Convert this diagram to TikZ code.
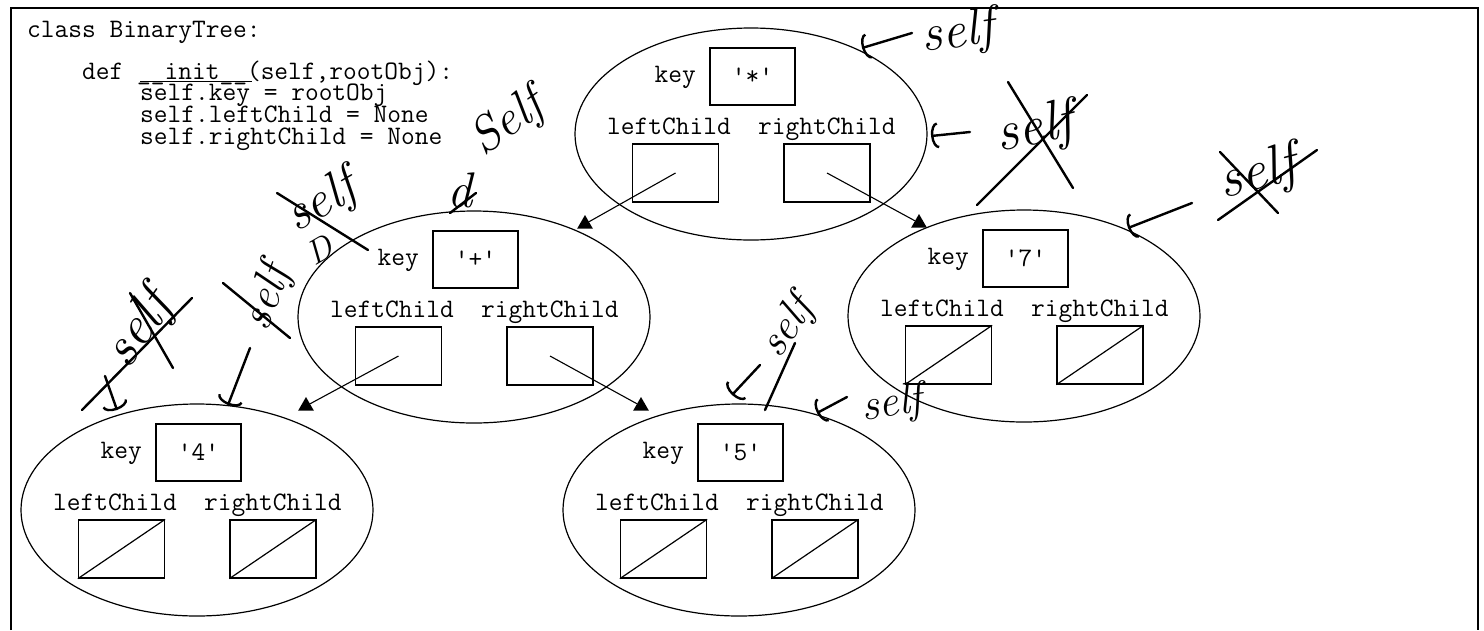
\documentclass[tikz,border=0pt]{standalone}
\usepackage{fontspec}
\usetikzlibrary{shapes.geometric,arrows.meta}
\newcommand\squote{\char39\relax}
% one tree node: name, centre x, centre y, key value, null children (1/0)
\newcommand\treenode[5]{%
  \begin{scope}[shift={(#2,#3)}]
    \node[bell] (#1) at (0,0) {};
    \node[kbox] (#1-key) at (1.5,-57.5) {\squote#4\squote};
    \node[mono, anchor=base east] (#1-keylbl) at (-55,-52) {key};
    \node[mono, anchor=base west] (#1-ll) at (-144,0) {leftChild};
    \node[mono, anchor=base west] (#1-rl) at (7,0) {rightChild};
    \node[cbox] (#1-left) at (-75.5,39) {};
    \node[cbox] (#1-right) at (76,39) {};
    \ifnum#5=1
      \draw[thin line] (#1-left.south west) -- (#1-left.north east);
      \draw[thin line] (#1-right.south west) -- (#1-right.north east);
    \fi
  \end{scope}}
\newcommand\hwsize[1]{\fontsize{#1}{#1}\selectfont\itshape}
\begin{document}
\begin{tikzpicture}[x=1pt,y=-1pt,
  mono/.style={font=\ttfamily\fontsize{26.67}{30}\selectfont, inner sep=0pt},
  code/.style={mono, anchor=base west},
  bell/.style={ellipse, draw, line width=1.2pt, minimum width=352pt, minimum height=212pt, inner sep=0pt},
  kbox/.style={draw, line width=1.3pt, minimum width=85pt, minimum height=57pt, inner sep=0pt, mono},
  cbox/.style={draw, line width=1.3pt, minimum width=86pt, minimum height=58pt, inner sep=0pt},
  thin line/.style={line width=1.2pt},
  conn/.style={line width=1.1pt},
  tip/.style={regular polygon, regular polygon sides=3, fill=black, minimum size=18pt, inner sep=0pt},
  hw/.style={font=\hwsize{56}, inner sep=0pt},
  ink/.style={line width=2.4pt, line cap=round},
  inkarrow/.style={ink, -{Arc Barb[length=7pt,width=26pt,line width=2.4pt]}},
]
\useasboundingbox (0,0) rectangle (1484,630);

% frame (open at the bottom)
\draw[line width=1.6pt] (11,630) -- (11,8) -- (1478,8) -- (1478,630);

% the Python source
\node[code] (c1) at (27,37) {class BinaryTree:};
\node[code] (c2) at (82,79) {def \_\_init\_\_(self,rootObj):};
\node[code] (c3) at (140,100) {self.key = rootObj};
\node[code] (c4) at (140,122) {self.leftChild = None};
\node[code] (c5) at (140,144) {self.rightChild = None};
\draw[line width=1pt] (c3.north west) ++(0,-2) -- ++(112,0);

% the tree
\treenode{root}{751}{134}{*}{0}
\treenode{plus}{474}{317}{+}{0}
\treenode{seven}{1024}{316}{7}{1}
\treenode{four}{197}{510}{4}{1}
\treenode{five}{739}{510}{5}{1}

% child pointers
\node[tip] (t1) at (585,224) {};
\node[tip] (t2) at (919,223) {};
\node[tip] (t3) at (306,406) {};
\node[tip] (t4) at (641,406) {};
\draw[conn] (root-left.center) -- (t1);
\draw[conn] (root-right.center) -- (t2);
\draw[conn] (plus-left.center) -- (t3);
\draw[conn] (plus-right.center) -- (t4);

% handwritten notes
\coordinate (p1) at (862,48);
\node[hw, rotate=8, font=\hwsize{52}] (n1) at (958,34) {self};
\draw[inkarrow] (912,33) -- (p1);

\coordinate (p2) at (931,136);
\node[hw, rotate=12] (n2) at (1035,130) {self};
\draw[inkarrow] (970,132) -- (p2);
\draw[ink] (977,205) -- (1087,95);
\draw[ink] (1008,82) -- (1073,188);

\coordinate (p3) at (1128,228);
\node[hw, rotate=15] (n3) at (1258,175) {self};
\draw[inkarrow] (1192,203) -- (p3);
\draw[ink] (1218,220) -- (1317,150);
\draw[ink] (1220,152) -- (1278,213);

\node[hw, rotate=35, font=\hwsize{50}] (n4) at (508,124) {Self};

\node[hw, font=\hwsize{50}] (n5) at (460,190) {d};
\draw[ink] (450,213) -- (476,193);

\node[hw, rotate=30, font=\hwsize{52}] (n6) at (322,203) {self};
\node[hw, rotate=30, font=\hwsize{34}] (n6b) at (320,250) {D};
\draw[ink] (277,193) -- (368,250);

\coordinate (p7) at (228,405);
\node[hw, rotate=70, font=\hwsize{46}] (n7) at (268,298) {self};
\draw[ink] (223,283) -- (290,338);
\draw[inkarrow] (250,348) -- (p7);

\coordinate (p8) at (117,410);
\node[hw, rotate=55] (n8) at (140,330) {self};
\draw[ink] (82,410) -- (192,298);
\draw[ink] (130,293) -- (173,368);
\draw[inkarrow] (105,376) -- (p8);

\coordinate (p9) at (732,395);
\node[hw, rotate=55, font=\hwsize{44}] (n9) at (788,328) {self};
\draw[ink] (765,410) -- (795,343);
\draw[inkarrow] (760,365) -- (p9);

\coordinate (p10) at (817,413);
\node[hw, rotate=8, font=\hwsize{44}] (n10) at (892,405) {self};
\draw[inkarrow] (847,397) -- (p10);
\end{tikzpicture}
\end{document}
